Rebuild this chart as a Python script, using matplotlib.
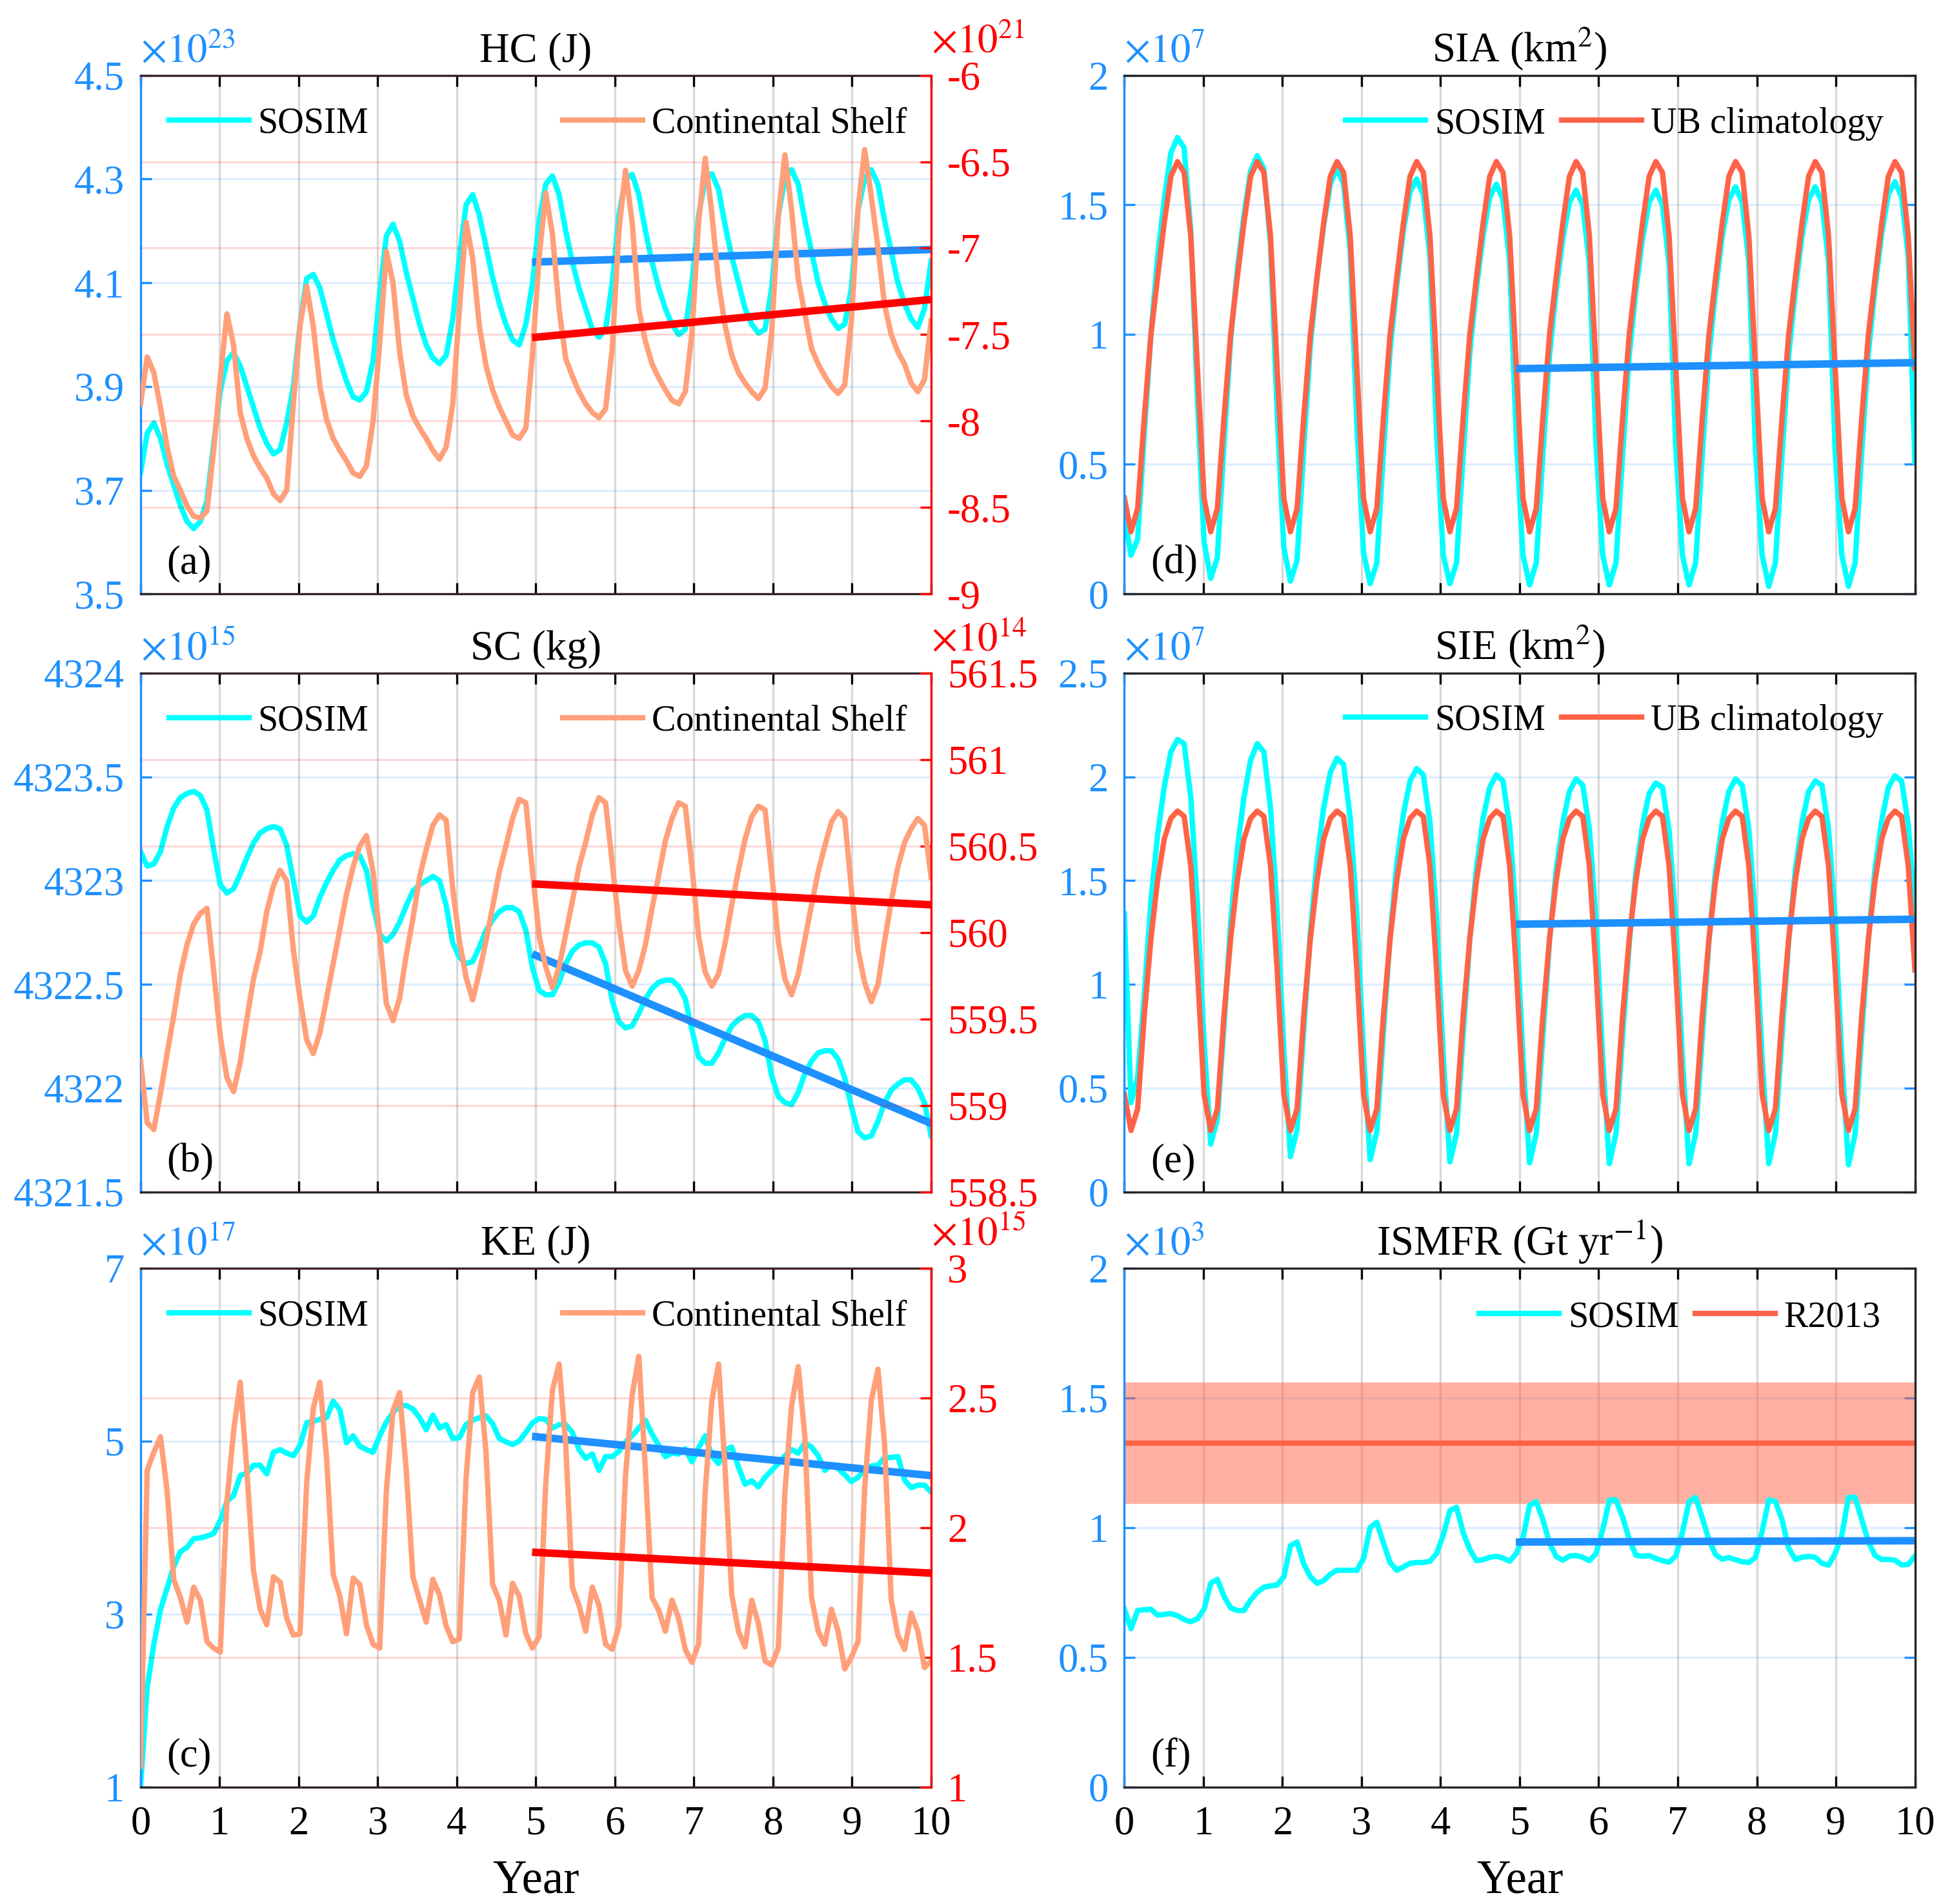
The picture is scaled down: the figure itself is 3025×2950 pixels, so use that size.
import numpy as np
import matplotlib.pyplot as plt

plt.rcParams['font.family'] = ['Liberation Serif', 'DejaVu Serif']
plt.rcParams['mathtext.fontset'] = 'stix'
plt.rcParams['axes.unicode_minus'] = False

CYAN = '#00FFFF'
SALMON = '#FFA07A'
BLUE = '#1E90FF'
RED = '#FF0000'
TOMATO = '#FF6347'

# 120 monthly samples over the 10 model years
x = np.linspace(0, 10, 120)
trend_x = [5, 10]

# (a) heat content: SOSIM [1e23 J], continental shelf [1e21 J]
hc_sosim = [3.734, 3.81, 3.83, 3.80, 3.75, 3.71, 3.67, 3.64, 3.626, 3.64, 3.68, 3.79,
            3.89, 3.95, 3.965, 3.94, 3.90, 3.86, 3.82, 3.79, 3.770, 3.778, 3.83, 3.90,
            4.02, 4.108, 4.116, 4.09, 4.04, 3.99, 3.95, 3.91, 3.88, 3.874, 3.89, 3.95,
            4.08, 4.19, 4.213, 4.18, 4.12, 4.07, 4.02, 3.98, 3.955, 3.944, 3.96, 4.03,
            4.15, 4.25, 4.27, 4.23, 4.17, 4.11, 4.06, 4.02, 3.99, 3.98, 4.02, 4.10,
            4.22, 4.29, 4.306, 4.27, 4.20, 4.14, 4.09, 4.05, 4.01, 3.995, 4.01, 4.10,
            4.23, 4.30, 4.309, 4.27, 4.20, 4.14, 4.09, 4.05, 4.02, 4.00, 4.01, 4.10,
            4.23, 4.30, 4.31, 4.28, 4.21, 4.15, 4.10, 4.05, 4.02, 4.003, 4.01, 4.09,
            4.23, 4.30, 4.318, 4.29, 4.22, 4.16, 4.10, 4.06, 4.03, 4.012, 4.02, 4.09,
            4.24, 4.30, 4.318, 4.29, 4.22, 4.16, 4.10, 4.06, 4.03, 4.014, 4.05, 4.142]
hc_shelf = [-7.90, -7.63, -7.72, -7.92, -8.15, -8.32, -8.40, -8.49, -8.55, -8.56, -8.52, -8.17,
            -7.75, -7.38, -7.56, -7.95, -8.10, -8.20, -8.27, -8.33, -8.42, -8.46, -8.40, -7.90,
            -7.45, -7.22, -7.45, -7.80, -7.99, -8.10, -8.17, -8.23, -8.30, -8.32, -8.26, -8.00,
            -7.55, -7.02, -7.20, -7.60, -7.85, -7.97, -8.04, -8.10, -8.17, -8.22, -8.15, -7.90,
            -7.35, -6.85, -7.06, -7.45, -7.68, -7.82, -7.92, -8.00, -8.08, -8.10, -8.04, -7.61,
            -7.05, -6.68, -6.92, -7.35, -7.64, -7.74, -7.83, -7.90, -7.95, -7.98, -7.93, -7.58,
            -6.90, -6.55, -6.85, -7.35, -7.54, -7.67, -7.75, -7.82, -7.88, -7.90, -7.83, -7.49,
            -6.85, -6.48, -6.80, -7.20, -7.45, -7.62, -7.72, -7.78, -7.83, -7.87, -7.81, -7.49,
            -6.81, -6.46, -6.78, -7.18, -7.38, -7.58, -7.67, -7.74, -7.80, -7.84, -7.79, -7.42,
            -6.77, -6.43, -6.70, -7.00, -7.33, -7.50, -7.60, -7.67, -7.78, -7.83, -7.76, -7.42]
hc_sosim_trend = [4.140, 4.164]
hc_shelf_trend = [-7.515, -7.297]

# (b) salt content: SOSIM [1e15 kg], continental shelf [1e14 kg]
sc_sosim = [4323.14, 4323.07, 4323.08, 4323.14, 4323.26, 4323.35, 4323.40, 4323.42, 4323.43, 4323.41, 4323.34, 4323.15,
            4322.98, 4322.94, 4322.96, 4323.03, 4323.11, 4323.18, 4323.23, 4323.25, 4323.26, 4323.25, 4323.17, 4323.00,
            4322.83, 4322.80, 4322.83, 4322.92, 4322.99, 4323.05, 4323.10, 4323.12, 4323.13, 4323.12, 4323.05, 4322.88,
            4322.74, 4322.71, 4322.74, 4322.80, 4322.88, 4322.95, 4322.98, 4323.00, 4323.02, 4323.00, 4322.88, 4322.70,
            4322.63, 4322.60, 4322.61, 4322.68, 4322.76, 4322.81, 4322.85, 4322.87, 4322.87, 4322.85, 4322.76, 4322.58,
            4322.47, 4322.45, 4322.45, 4322.51, 4322.60, 4322.66, 4322.69, 4322.70, 4322.70, 4322.68, 4322.60, 4322.42,
            4322.32, 4322.29, 4322.30, 4322.36, 4322.43, 4322.48, 4322.51, 4322.52, 4322.52, 4322.49, 4322.43, 4322.28,
            4322.15, 4322.12, 4322.12, 4322.17, 4322.24, 4322.30, 4322.33, 4322.35, 4322.35, 4322.32, 4322.23, 4322.06,
            4321.96, 4321.93, 4321.92, 4321.98, 4322.07, 4322.13, 4322.17, 4322.18, 4322.18, 4322.14, 4322.05, 4321.91,
            4321.79, 4321.76, 4321.77, 4321.84, 4321.93, 4321.99, 4322.02, 4322.04, 4322.04, 4322.00, 4321.93, 4321.77]
sc_shelf = [559.26, 558.90, 558.86, 559.07, 559.30, 559.52, 559.76, 559.93, 560.05, 560.11, 560.14, 559.78,
            559.40, 559.16, 559.08, 559.25, 559.50, 559.73, 559.89, 560.12, 560.27, 560.36, 560.30, 559.90,
            559.62, 559.38, 559.30, 559.42, 559.62, 559.82, 560.02, 560.22, 560.38, 560.50, 560.56, 560.35,
            559.98, 559.59, 559.49, 559.62, 559.87, 560.08, 560.32, 560.48, 560.62, 560.68, 560.65, 560.25,
            559.95, 559.74, 559.61, 559.77, 559.95, 560.15, 560.35, 560.50, 560.66, 560.77, 560.75, 560.35,
            559.98, 559.80, 559.68, 559.80, 559.99, 560.18, 560.38, 560.52, 560.68, 560.78, 560.75, 560.40,
            560.05, 559.78, 559.69, 559.78, 559.93, 560.14, 560.33, 560.53, 560.66, 560.75, 560.73, 560.38,
            559.98, 559.77, 559.69, 559.76, 559.94, 560.16, 560.36, 560.54, 560.67, 560.73, 560.71, 560.35,
            559.95, 559.73, 559.64, 559.76, 559.96, 560.16, 560.35, 560.50, 560.64, 560.70, 560.66, 560.25,
            559.90, 559.71, 559.60, 559.70, 559.95, 560.18, 560.38, 560.52, 560.60, 560.66, 560.62, 560.32]
sc_sosim_trend = [4322.64, 4321.83]
sc_shelf_trend = [560.28, 560.16]

# (c) kinetic energy: SOSIM [1e17 J], continental shelf [1e15 J]
ke_sosim = [1.00, 2.15, 2.65, 3.05, 3.30, 3.55, 3.72, 3.77, 3.87, 3.88, 3.90, 3.93,
            4.08, 4.30, 4.37, 4.60, 4.63, 4.72, 4.72, 4.62, 4.87, 4.90, 4.86, 4.83,
            4.95, 5.21, 5.23, 5.25, 5.27, 5.46, 5.36, 4.98, 5.06, 4.94, 4.90, 4.87,
            5.06, 5.22, 5.33, 5.41, 5.41, 5.37, 5.27, 5.13, 5.30, 5.15, 5.19, 5.03,
            5.04, 5.19, 5.24, 5.27, 5.29, 5.20, 5.03, 4.99, 4.96, 5.00, 5.10, 5.21,
            5.26, 5.25, 5.15, 5.19, 5.19, 5.10, 4.90, 4.80, 4.85, 4.66, 4.82, 4.82,
            4.88, 4.99, 5.06, 5.15, 5.24, 5.08, 4.95, 4.82, 4.86, 4.85, 4.91, 4.76,
            4.92, 5.06, 4.83, 4.74, 4.90, 4.93, 4.70, 4.50, 4.54, 4.47, 4.58, 4.66,
            4.74, 4.83, 4.90, 4.86, 4.98, 4.93, 4.83, 4.66, 4.73, 4.68, 4.61, 4.53,
            4.58, 4.67, 4.71, 4.72, 4.81, 4.81, 4.82, 4.55, 4.46, 4.49, 4.49, 4.41]
ke_shelf = [1.08, 2.22, 2.29, 2.35, 2.14, 1.80, 1.73, 1.635, 1.77, 1.72, 1.56, 1.535,
            1.52, 2.10, 2.37, 2.56, 2.22, 1.835, 1.685, 1.625, 1.81, 1.79, 1.65, 1.585,
            1.59, 2.17, 2.46, 2.56, 2.27, 1.82, 1.735, 1.59, 1.805, 1.78, 1.625, 1.55,
            1.535, 2.14, 2.45, 2.52, 2.22, 1.81, 1.72, 1.635, 1.80, 1.74, 1.62, 1.56,
            1.57, 2.19, 2.52, 2.58, 2.29, 1.78, 1.72, 1.585, 1.785, 1.735, 1.59, 1.535,
            1.58, 2.17, 2.53, 2.63, 2.32, 1.77, 1.70, 1.60, 1.77, 1.70, 1.55, 1.53,
            1.62, 2.20, 2.51, 2.66, 2.22, 1.73, 1.68, 1.60, 1.72, 1.65, 1.53, 1.48,
            1.55, 2.14, 2.49, 2.63, 2.22, 1.74, 1.60, 1.54, 1.72, 1.63, 1.485, 1.47,
            1.535, 2.14, 2.47, 2.62, 2.35, 1.73, 1.60, 1.55, 1.685, 1.60, 1.455, 1.50,
            1.56, 2.15, 2.49, 2.61, 2.32, 1.72, 1.585, 1.53, 1.67, 1.60, 1.46, 1.485]
ke_sosim_trend = [5.05, 4.60]
ke_shelf_trend = [1.904, 1.824]

# (d) sea ice area [1e7 km^2]
sia_sosim = [0.30, 0.15, 0.21, 0.62, 1.00, 1.30, 1.52, 1.70, 1.76, 1.72, 1.40, 0.75,
             0.20, 0.06, 0.14, 0.58, 0.98, 1.25, 1.46, 1.63, 1.69, 1.64, 1.35, 0.70,
             0.18, 0.05, 0.13, 0.56, 0.96, 1.22, 1.42, 1.58, 1.64, 1.58, 1.32, 0.65,
             0.16, 0.04, 0.12, 0.55, 0.94, 1.19, 1.40, 1.55, 1.60, 1.54, 1.30, 0.62,
             0.15, 0.04, 0.12, 0.54, 0.93, 1.18, 1.38, 1.53, 1.58, 1.52, 1.28, 0.60,
             0.15, 0.035, 0.12, 0.54, 0.92, 1.17, 1.37, 1.51, 1.557, 1.50, 1.27, 0.58,
             0.15, 0.035, 0.12, 0.54, 0.92, 1.17, 1.37, 1.51, 1.557, 1.50, 1.27, 0.57,
             0.15, 0.035, 0.12, 0.54, 0.92, 1.17, 1.38, 1.52, 1.57, 1.51, 1.28, 0.56,
             0.15, 0.03, 0.12, 0.54, 0.92, 1.17, 1.38, 1.52, 1.57, 1.51, 1.28, 0.55,
             0.15, 0.03, 0.12, 0.55, 0.93, 1.18, 1.39, 1.54, 1.59, 1.53, 1.30, 0.51]
sia_ub_clim = [0.37, 0.24, 0.33, 0.68, 1.00, 1.22, 1.43, 1.61, 1.667, 1.625, 1.38, 0.87]
sia_trend = [0.869, 0.892]

# (e) sea ice extent [1e7 km^2]
sie_sosim = [1.34, 0.43, 0.55, 0.95, 1.40, 1.72, 1.95, 2.12, 2.18, 2.16, 1.90, 1.38,
             0.72, 0.23, 0.35, 0.80, 1.30, 1.65, 1.90, 2.08, 2.16, 2.12, 1.85, 1.35,
             0.68, 0.17, 0.30, 0.78, 1.25, 1.60, 1.85, 2.02, 2.09, 2.06, 1.80, 1.33,
             0.66, 0.155, 0.29, 0.77, 1.23, 1.58, 1.82, 1.98, 2.04, 2.01, 1.78, 1.32,
             0.65, 0.145, 0.28, 0.76, 1.22, 1.56, 1.80, 1.95, 2.01, 1.98, 1.76, 1.31,
             0.64, 0.14, 0.28, 0.75, 1.21, 1.55, 1.78, 1.93, 1.99, 1.96, 1.75, 1.31,
             0.64, 0.136, 0.28, 0.75, 1.20, 1.54, 1.77, 1.92, 1.97, 1.95, 1.74, 1.30,
             0.64, 0.136, 0.28, 0.75, 1.21, 1.55, 1.78, 1.93, 1.99, 1.96, 1.75, 1.31,
             0.64, 0.136, 0.28, 0.75, 1.21, 1.55, 1.78, 1.93, 1.98, 1.96, 1.75, 1.31,
             0.64, 0.13, 0.28, 0.76, 1.22, 1.56, 1.79, 1.95, 2.005, 1.98, 1.77, 1.34]
sie_ub_clim = [0.47, 0.296, 0.40, 0.85, 1.22, 1.50, 1.70, 1.80, 1.835, 1.81, 1.57, 1.07]
sie_trend = [1.29, 1.314]

# (f) ice shelf melt flux [1e3 Gt/yr]
ismfr_sosim = [0.685, 0.61, 0.68, 0.683, 0.685, 0.662, 0.665, 0.668, 0.66, 0.645, 0.637, 0.648,
               0.685, 0.785, 0.80, 0.735, 0.69, 0.68, 0.68, 0.72, 0.75, 0.77, 0.775, 0.778,
               0.81, 0.93, 0.944, 0.86, 0.81, 0.785, 0.795, 0.82, 0.835, 0.835, 0.835, 0.835,
               0.88, 1.00, 1.02, 0.94, 0.865, 0.835, 0.848, 0.862, 0.865, 0.865, 0.87, 0.90,
               0.97, 1.065, 1.078, 0.98, 0.915, 0.872, 0.876, 0.885, 0.889, 0.882, 0.87, 0.90,
               0.96, 1.085, 1.10, 1.03, 0.94, 0.888, 0.874, 0.89, 0.892, 0.885, 0.872, 0.90,
               0.99, 1.105, 1.106, 1.04, 0.955, 0.893, 0.889, 0.892, 0.88, 0.872, 0.866, 0.89,
               0.98, 1.10, 1.116, 1.036, 0.952, 0.895, 0.878, 0.884, 0.876, 0.868, 0.865, 0.885,
               0.985, 1.106, 1.10, 1.03, 0.92, 0.877, 0.885, 0.889, 0.885, 0.862, 0.855, 0.90,
               0.97, 1.116, 1.116, 1.03, 0.945, 0.892, 0.877, 0.877, 0.874, 0.856, 0.858, 0.889]
ismfr_trend = [0.944, 0.949]
r2013_mean = 1.325
r2013_err = 0.235

fig = plt.figure(figsize=(3025 / 300, 2950 / 300), dpi=300)

col_left = [0.072, 0.576]
col_w = 0.405
row_bottom = [0.688, 0.374, 0.0615]
row_h = 0.2725
FS = 13.5
LW = 2.0
TLW = 2.8


def base_axes(rect, ylim, yticks, show_x):
    ax = fig.add_axes(rect)
    ax.set_xlim(0, 10)
    ax.set_xticks(range(11))
    ax.set_ylim(*ylim)
    ax.set_yticks(yticks)
    ax.set_yticklabels(['%g' % t for t in yticks])
    ax.tick_params(direction='in', length=4, width=0.8, labelsize=15, top=True)
    ax.tick_params(axis='y', colors=BLUE, pad=6)
    ax.tick_params(axis='x', labelbottom=show_x, pad=7)
    for s in ax.spines.values():
        s.set_linewidth(0.8)
        s.set_color('#262626')
    ax.spines['left'].set_color(BLUE)
    ax.grid(axis='x', color='k', alpha=0.15, lw=0.8)
    ax.grid(axis='y', color=BLUE, alpha=0.15, lw=0.8)
    ax.set_axisbelow(True)
    if show_x:
        ax.set_xlabel('Year', fontsize=17.5, labelpad=6)
    return ax


def add_header(ax, title, exp1, tag):
    ax.set_title(title, fontsize=15.5, pad=5)
    ax.text(0.0, 1.008, exp1, transform=ax.transAxes, color=BLUE, fontsize=15,
            ha='left', va='bottom')
    ax.text(0.033, 0.022, tag, transform=ax.transAxes, fontsize=15, va='bottom',
            zorder=10)


def shelf_panel(row, title, sosim, shelf, tr1, tr2, ylim, yticks, ylim2, yticks2,
                exp1, exp2, tag, show_x=False):
    ax = base_axes([col_left[0], row_bottom[row], col_w, row_h], ylim, yticks, show_x)
    ax.spines['right'].set_visible(False)
    l1, = ax.plot(x, sosim, color=CYAN, lw=LW)
    ax.plot(trend_x, tr1, color=BLUE, lw=TLW)

    ax2 = ax.twinx()
    ax2.set_ylim(*ylim2)
    ax2.set_yticks(yticks2)
    ax2.set_yticklabels(['%g' % t for t in yticks2])
    ax2.tick_params(axis='y', direction='in', length=4, width=0.8, labelsize=15,
                    colors=RED, pad=6)
    for s in ['left', 'top', 'bottom']:
        ax2.spines[s].set_visible(False)
    ax2.spines['right'].set_color(RED)
    ax2.spines['right'].set_linewidth(0.8)
    ax2.grid(axis='y', color=RED, alpha=0.15, lw=0.8)
    ax2.set_axisbelow(True)
    l2, = ax2.plot(x, shelf, color=SALMON, lw=LW)
    ax2.plot(trend_x, tr2, color=RED, lw=TLW)

    add_header(ax, title, exp1, '')
    ax2.text(1.0, 1.026, exp2, transform=ax.transAxes, color=RED, fontsize=15,
             ha='left', va='bottom')
    ax2.text(0.033, 0.022, tag, transform=ax.transAxes, fontsize=15, va='bottom')
    ax2.legend([l1, l2], ['SOSIM', 'Continental Shelf'], ncol=2, loc='center left',
               bbox_to_anchor=(0.036, 0.907), frameon=False, fontsize=FS,
               handlelength=2.2, handletextpad=0.25, columnspacing=5.35,
               borderpad=0, borderaxespad=0)


def sea_panel(row, title, ylim, yticks, exp1, tag, show_x=False):
    ax = base_axes([col_left[1], row_bottom[row], col_w, row_h], ylim, yticks, show_x)
    ax.tick_params(axis='y', right=True)
    add_header(ax, title, exp1, tag)
    return ax


shelf_panel(0, 'HC (J)', hc_sosim, hc_shelf, hc_sosim_trend, hc_shelf_trend,
            (3.5, 4.5), [3.5, 3.7, 3.9, 4.1, 4.3, 4.5],
            (-9, -6), [-9, -8.5, -8, -7.5, -7, -6.5, -6],
            r'$\times10^{23}$', r'$\times10^{21}$', '(a)')
shelf_panel(1, 'SC (kg)', sc_sosim, sc_shelf, sc_sosim_trend, sc_shelf_trend,
            (4321.5, 4324), [4321.5, 4322, 4322.5, 4323, 4323.5, 4324],
            (558.5, 561.5), [558.5, 559, 559.5, 560, 560.5, 561, 561.5],
            r'$\times10^{15}$', r'$\times10^{14}$', '(b)')
shelf_panel(2, 'KE (J)', ke_sosim, ke_shelf, ke_sosim_trend, ke_shelf_trend,
            (1, 7), [1, 3, 5, 7],
            (1, 3), [1, 1.5, 2, 2.5, 3],
            r'$\times10^{17}$', r'$\times10^{15}$', '(c)', show_x=True)

legend_kw = dict(ncol=2, loc='center right', frameon=False, fontsize=FS,
                 handlelength=2.2, handletextpad=0.25, columnspacing=0.45,
                 borderpad=0, borderaxespad=0)

ax = sea_panel(0, r'SIA (km$^{2}$)', (0, 2), [0, 0.5, 1, 1.5, 2], r'$\times10^{7}$', '(d)')
l1, = ax.plot(x, sia_sosim, color=CYAN, lw=LW)
l2, = ax.plot(x, np.tile(sia_ub_clim, 10), color=TOMATO, lw=LW)
ax.plot(trend_x, sia_trend, color=BLUE, lw=TLW)
ax.legend([l1, l2], ['SOSIM', 'UB climatology'], bbox_to_anchor=(0.96, 0.906), **legend_kw)

ax = sea_panel(1, r'SIE (km$^{2}$)', (0, 2.5), [0, 0.5, 1, 1.5, 2, 2.5], r'$\times10^{7}$', '(e)')
l1, = ax.plot(x, sie_sosim, color=CYAN, lw=LW)
l2, = ax.plot(x, np.tile(sie_ub_clim, 10), color=TOMATO, lw=LW)
ax.plot(trend_x, sie_trend, color=BLUE, lw=TLW)
ax.legend([l1, l2], ['SOSIM', 'UB climatology'], bbox_to_anchor=(0.96, 0.908), **legend_kw)

ax = sea_panel(2, r'ISMFR (Gt yr$^{-1}$)', (0, 2), [0, 0.5, 1, 1.5, 2], r'$\times10^{3}$', '(f)',
               show_x=True)
ax.fill_between([0, 10], r2013_mean - r2013_err, r2013_mean + r2013_err,
                color=TOMATO, alpha=0.5, lw=0)
l2, = ax.plot([0, 10], [r2013_mean, r2013_mean], color=TOMATO, lw=LW)
l1, = ax.plot(x, ismfr_sosim, color=CYAN, lw=LW)
ax.plot(trend_x, ismfr_trend, color=BLUE, lw=TLW)
ax.legend([l1, l2], ['SOSIM', 'R2013'], bbox_to_anchor=(0.957, 0.905), **legend_kw)

fig.savefig('out.png', dpi=300)
